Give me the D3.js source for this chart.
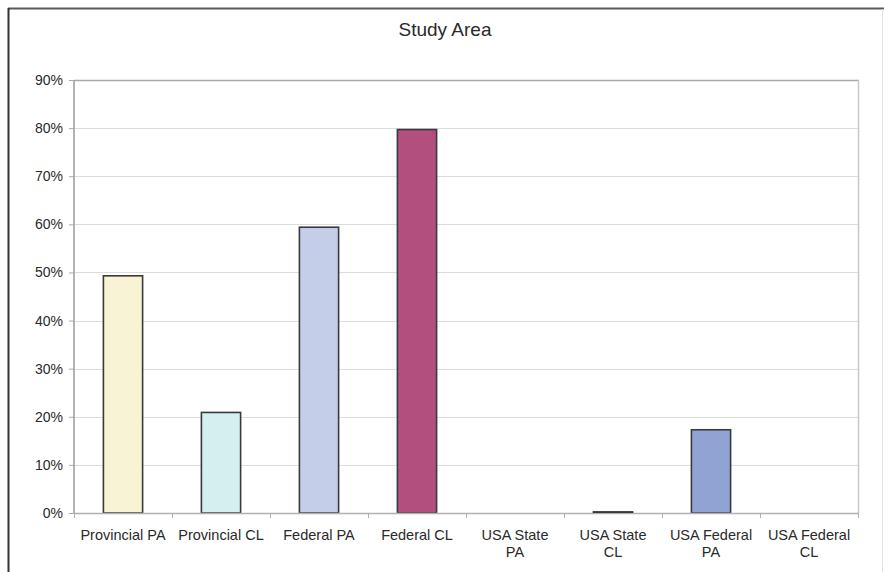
<!DOCTYPE html>
<html>
<head>
<meta charset="utf-8">
<script src="https://cdn.jsdelivr.net/npm/d3@7"></script>
<style>
  html, body { margin: 0; padding: 0; background: #ffffff; }
  svg { display: block; }
  text { font-family: "Liberation Sans", Arial, Helvetica, sans-serif; fill: #2a2a2a; }
</style>
</head>
<body>
<svg id="chart" width="884" height="572"></svg>
<script>
const title = "Study Area";
const categories = ["Provincial PA", "Provincial CL", "Federal PA", "Federal CL",
                    "USA State PA", "USA State CL", "USA Federal PA", "USA Federal CL"];
const tickLabelLines = [["Provincial PA"], ["Provincial CL"], ["Federal PA"], ["Federal CL"],
                        ["USA State", "PA"], ["USA State", "CL"], ["USA Federal", "PA"], ["USA Federal", "CL"]];
const values = [0.493, 0.209, 0.594, 0.797, 0, 0.002, 0.173, 0];
const barColors = ["#f8f3d4", "#d5eeee", "#c5cee9", "#b24f7f", "#c5cee9", "#111111", "#91a3d2", "#91a3d2"];
const yTicks = [0, 0.1, 0.2, 0.3, 0.4, 0.5, 0.6, 0.7, 0.8, 0.9];

const svg = d3.select("#chart");
const W = 884, H = 572;
const plot = { left: 74, right: 858, top: 80, bottom: 513 };

// outer frame
svg.append("line").attr("x1", 8).attr("x2", 884).attr("y1", 8.5).attr("y2", 8.5)
  .attr("stroke", "#5a5a5a").attr("stroke-width", 2);
svg.append("line").attr("x1", 8.5).attr("x2", 8.5).attr("y1", 8).attr("y2", H)
  .attr("stroke", "#333").attr("stroke-width", 2);
svg.append("line").attr("x1", 882.5).attr("x2", 882.5).attr("y1", 9).attr("y2", H)
  .attr("stroke", "#e2e2e2").attr("stroke-width", 1);

const x = d3.scaleBand().domain(categories)
  .range([plot.left, plot.right]).paddingInner(0.6).paddingOuter(0.3);
const y = d3.scaleLinear().domain([0, 0.9]).range([plot.bottom, plot.top]);

// gridlines
svg.append("g").selectAll("line").data(yTicks.filter(t => t > 0 && t < 0.9)).join("line")
  .attr("x1", plot.left).attr("x2", plot.right)
  .attr("y1", d => Math.round(y(d)) + 0.5).attr("y2", d => Math.round(y(d)) + 0.5)
  .attr("stroke", "#dcdcdc").attr("stroke-width", 1);

// plot border (top and right)
svg.append("line").attr("x1", plot.left).attr("x2", plot.right + 1)
  .attr("y1", y(0.9) + 0.5).attr("y2", y(0.9) + 0.5)
  .attr("stroke", "#a8a8a8").attr("stroke-width", 1.5);
svg.append("line").attr("x1", plot.right + 0.5).attr("x2", plot.right + 0.5)
  .attr("y1", y(0.9)).attr("y2", plot.bottom)
  .attr("stroke", "#c8c8c8").attr("stroke-width", 1.5);

// bars
svg.append("g").selectAll("rect").data(categories.map((c, i) => ({ c, v: values[i], col: barColors[i] })).filter(d => d.v > 0))
  .join("rect")
  .attr("x", d => x(d.c))
  .attr("width", x.bandwidth())
  .attr("y", d => y(d.v))
  .attr("height", d => Math.max(0.5, y(0) - y(d.v)))
  .attr("fill", d => d.col)
  .attr("stroke", d => d.v < 0.01 ? "#111" : "#3a3a3a")
  .attr("stroke-width", 1.6);

// y axis
const yAxis = d3.axisLeft(y).tickValues(yTicks).tickFormat(d3.format(".0%")).tickSize(5).tickPadding(6);
const gy = svg.append("g").attr("transform", `translate(${plot.left},0)`).call(yAxis);
gy.select(".domain").attr("stroke", "#9a9a9a").attr("stroke-width", 1.5).attr("d", `M0,${plot.top}V${plot.bottom}`);
gy.selectAll(".tick line").attr("stroke", "#aaa");
gy.selectAll(".tick text").attr("font-size", "14px").attr("fill", "#2a2a2a")
  .attr("font-family", "'Liberation Sans', Arial, sans-serif");

// x axis baseline and ticks at band boundaries
svg.append("line").attr("x1", plot.left).attr("x2", plot.right + 1)
  .attr("y1", plot.bottom + 0.5).attr("y2", plot.bottom + 0.5)
  .attr("stroke", "#b0b0b0").attr("stroke-width", 1.5);
const boundaries = categories.map((c, i) => plot.left + i * x.step()).concat([plot.right]);
svg.append("g").selectAll("line").data(boundaries).join("line")
  .attr("x1", d => Math.round(d) + 0.5).attr("x2", d => Math.round(d) + 0.5)
  .attr("y1", plot.bottom).attr("y2", plot.bottom + 5)
  .attr("stroke", "#b0b0b0");

// x labels
const xl = svg.append("g").selectAll("text").data(categories).join("text")
  .attr("text-anchor", "middle")
  .attr("font-size", "14.5px")
  .attr("y", 540);
xl.each(function (c, i) {
  const t = d3.select(this);
  const cx = x(c) + x.bandwidth() / 2;
  tickLabelLines[i].forEach((ln, j) => {
    t.append("tspan").attr("x", cx).attr("dy", j === 0 ? 0 : 17).text(ln);
  });
});

// title
svg.append("text").attr("x", 445).attr("y", 36).attr("text-anchor", "middle")
  .attr("font-size", "19px").attr("fill", "#222").text(title);
</script>
</body>
</html>
